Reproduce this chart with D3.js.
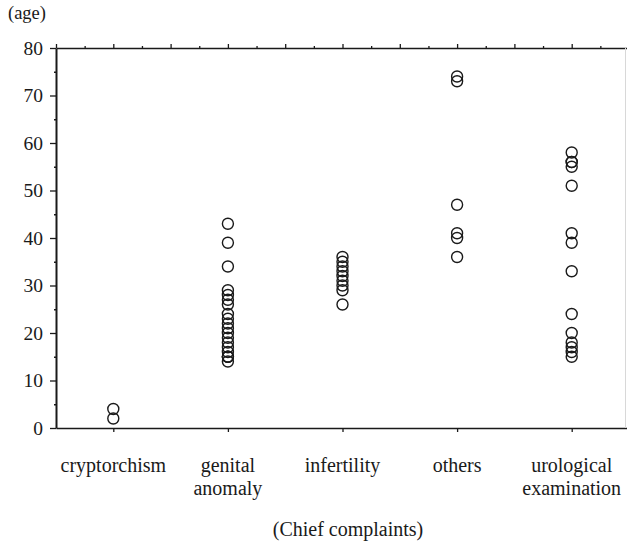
<!DOCTYPE html>
<html>
<head>
<meta charset="utf-8">
<script src="https://cdn.jsdelivr.net/npm/d3@7"></script>
<style>
  html, body { margin: 0; padding: 0; background: #fff; }
  svg { display: block; }
  svg text { font-family: "Liberation Serif", "DejaVu Serif", "Noto Serif", "Times New Roman", serif !important; }
</style>
</head>
<body>
<svg id="chart" width="627" height="544"></svg>
<script>
// Chief complaints (x categories), with line breaks for two-line labels
const categories = ["cryptorchism", "genital\nanomaly", "infertility", "others", "urological\nexamination"];

// Patient ages for each chief complaint
const agesCryptorchism = [4, 2];
const agesGenitalAnomaly = [43, 39, 34, 29, 28, 27, 26, 24, 23, 22, 21, 20, 19, 18, 17, 16, 15, 15, 15, 14];
const agesInfertility = [36, 35, 34, 33, 32, 31, 30, 29, 26];
const agesOthers = [74, 73, 47, 41, 40, 36];
const agesUrological = [58, 56, 56, 55, 51, 41, 39, 33, 24, 20, 18, 17, 16, 15];

const yTicks = [0, 10, 20, 30, 40, 50, 60, 70, 80];
const yMinorTicks = [5, 15, 25, 35, 45, 55, 65, 75];

const series = [agesCryptorchism, agesGenitalAnomaly, agesInfertility, agesOthers, agesUrological];
const points = [];
series.forEach((ages, i) => ages.forEach(a => points.push({ cat: i, age: a })));

const svg = d3.select("#chart");
const plotLeft = 56, plotTop = 48, plotBottom = 428;

// index scale for categories: frame spans half a step either side
const xi = d3.scaleLinear().domain([-0.5, 4.5]).range([plotLeft, 629]);
const y = d3.scaleLinear().domain([0, 80]).range([plotBottom, plotTop]);

const ink = "#1a1a1a";

// top frame line with ticks every quarter category (major every half)
const topMajor = d3.range(-0.5, 4.51, 0.5);
const topMinor = d3.range(-0.25, 4.5, 0.5);
const gTop = svg.append("g").attr("transform", `translate(0,${plotTop})`);
gTop.call(d3.axisTop(xi).tickValues(topMajor).tickSize(4).tickSizeOuter(0).tickFormat(""));
gTop.append("g").call(d3.axisTop(xi).tickValues(topMinor).tickSize(2).tickSizeOuter(0).tickFormat(""))
  .select(".domain").remove();

// bottom axis: tick under each category
const gBottom = svg.append("g").attr("transform", `translate(0,${plotBottom})`);
gBottom.call(d3.axisBottom(xi).tickValues(d3.range(0, 5)).tickSize(4).tickSizeOuter(0).tickFormat(""));

// category labels (one or two lines)
const labels = svg.append("g").attr("font-size", 20).attr("text-anchor", "middle").attr("fill", ink);
categories.forEach((c, i) => {
  const t = labels.append("text").attr("x", xi(i)).attr("y", 472);
  c.split("\n").forEach((line, k) => {
    t.append("tspan").attr("x", xi(i)).attr("dy", k === 0 ? 0 : 23).text(line);
  });
});

// left axis with labels, major and minor ticks
const gLeft = svg.append("g").attr("transform", `translate(${plotLeft},0)`);
gLeft.call(d3.axisLeft(y).tickValues(yTicks).tickSize(6).tickSizeOuter(0).tickPadding(7));
gLeft.attr("font-size", 19.5);
gLeft.selectAll("text").attr("fill", ink);
gLeft.append("g").call(d3.axisLeft(y).tickValues(yMinorTicks).tickSize(2).tickFormat(""))
  .select(".domain").remove();

svg.selectAll(".domain").attr("stroke", ink).attr("stroke-width", 1.6);
svg.selectAll(".tick line").attr("stroke", ink).attr("stroke-width", 1.3);
gLeft.select(".domain").attr("stroke-width", 2);

// faint right edge of the frame
svg.append("line").attr("x1", 625.5).attr("x2", 625.5).attr("y1", plotTop).attr("y2", plotBottom)
  .attr("stroke", "#d8d8d8").attr("stroke-width", 1);

// axis titles
svg.append("text").attr("x", 8).attr("y", 19).attr("font-size", 18.5)
  .attr("fill", ink).text("(age)");
svg.append("text").attr("x", 348).attr("y", 536).attr("font-size", 20)
  .attr("fill", ink).attr("text-anchor", "middle").text("(Chief complaints)");

// open circles for each patient
svg.append("g").selectAll("circle").data(points).join("circle")
  .attr("cx", d => xi(d.cat))
  .attr("cy", d => y(d.age))
  .attr("r", 5.5)
  .attr("fill", "none")
  .attr("stroke", ink)
  .attr("stroke-width", 1.4);
</script>
</body>
</html>
